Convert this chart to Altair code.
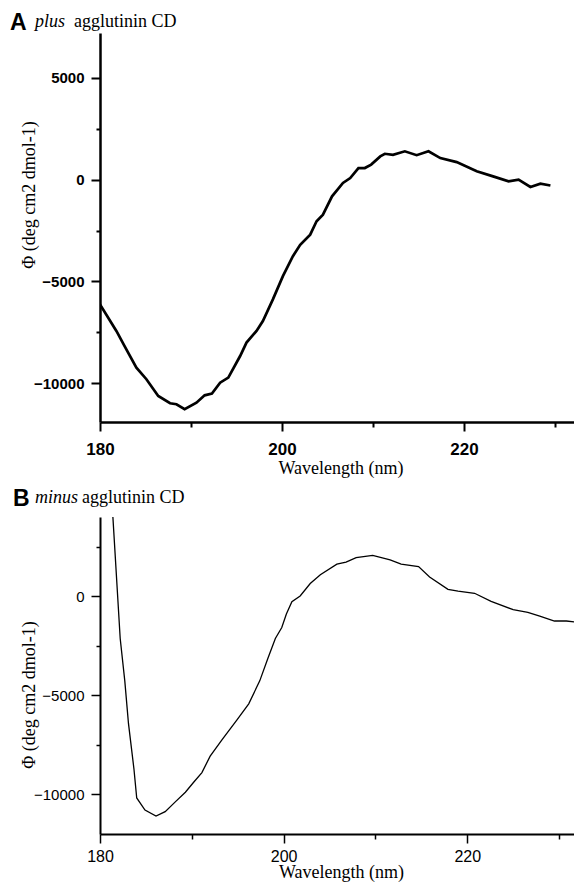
import altair as alt
import pandas as pd

# Panel A: plus agglutinin CD
wl_a = [180, 181.8, 182.7, 184.0, 185.1, 186.4, 187.7, 188.4, 189.3, 190.6, 191.5, 192.3,
        193.2, 194.1, 195.4, 196.1, 197.2, 197.9, 199.0, 200.1, 201.2, 202.0, 203.1, 203.8,
        204.5, 205.5, 206.7, 207.5, 208.4, 209.1, 209.8, 210.8, 211.3, 212.2, 213.5, 214.8,
        216.1, 217.4, 219.2, 221.4, 223.2, 224.9, 226.0, 227.3, 228.4, 229.5]
cd_a = [-6130, -7430, -8170, -9230, -9800, -10620, -10980, -11030, -11270, -10950, -10590, -10500,
        -9970, -9720, -8660, -8000, -7430, -6940, -5880, -4740, -3760, -3200, -2700, -2040,
        -1720, -820, -160, 80, 570, 570, 740, 1140, 1270, 1220, 1390, 1200,
        1390, 1060, 860, 410, 160, -80, 0, -360, -200, -290]

# Panel B: minus agglutinin CD
wl_b = [181.3, 182.2, 182.7, 183.1, 183.7, 184.0, 184.9, 186.1, 187.1, 188.2, 189.3, 190.2,
        191.1, 192.0, 193.3, 194.9, 196.2, 197.4, 198.3, 199.1, 199.8, 200.3, 200.9, 201.8,
        202.9, 204.0, 205.8, 206.8, 207.9, 209.7, 211.6, 212.8, 214.7, 215.9, 217.9, 219.0,
        220.8, 222.6, 225.0, 226.6, 227.9, 229.5, 230.8, 232.6]
cd_b = [4800, -2130, -4270, -6420, -8730, -10180, -10790, -11090, -10870, -10380, -9890, -9390,
        -8900, -8070, -7240, -6250, -5430, -4270, -3120, -2130, -1580, -900, -280, 15,
        640, 1090, 1620, 1720, 1950, 2060, 1830, 1620, 1500, 975, 350, 260,
        150, -260, -680, -810, -1000, -1250, -1250, -1340]

letters = ["A", "B"]
strains = ["plus", "minus"]
rest = ["agglutinin CD", "agglutinin CD"]
x_ticks = [180, 190, 200, 210, 220, 230]
y_ticks_a = [-10000, -7500, -5000, -2500, 0, 2500, 5000]
y_ticks_b = [-10000, -7500, -5000, -2500, 0, 2500]
x_title = "Wavelength (nm)"
y_title = "Φ (deg cm2 dmol-1)"

SANS = "Liberation Sans"
SERIF = "Liberation Serif"


def ticksize(major_test, minor_test, major, minor):
    return {"condition": [{"test": major_test, "value": major}, {"test": minor_test, "value": minor}],
            "value": major}


def panel(wl, cd, letter, strain, rst, xdom, ydom, yticks, width, height,
          bold, lw, dw, tw, title_y, head, xlpad, xtpad, xlsize):
    df = pd.DataFrame({"wl": wl, "cd": cd})
    weight = "bold" if bold else "normal"
    xaxis = alt.Axis(values=x_ticks, format="d",
                     labelExpr="datum.value % 20 === 0 ? datum.label : ''",
                     tickSize=ticksize("datum.value % 20 === 0", "datum.value % 20 !== 0", 9, 5),
                     labelFont=SANS, labelFontWeight=weight, labelFontSize=xlsize, labelColor="black",
                     labelPadding=xlpad, labelFlush=False, labelOverlap=False,
                     domainColor="black", domainWidth=dw, tickColor="black", tickWidth=tw,
                     grid=False, title=x_title, titleFont=SERIF, titleFontSize=18,
                     titleFontWeight="normal", titleColor="black", titlePadding=xtpad)
    yaxis = alt.Axis(values=yticks, format="d",
                     labelExpr="datum.value % 5000 === 0 ? datum.label : ''",
                     tickSize=ticksize("datum.value % 5000 === 0", "datum.value % 5000 !== 0", 9, 4),
                     labelFont=SANS, labelFontWeight=weight, labelFontSize=15, labelColor="black",
                     labelPadding=7, labelOverlap=False,
                     domainColor="black", domainWidth=dw, tickColor="black", tickWidth=tw,
                     grid=False, title=y_title, titleFont=SERIF, titleFontSize=18,
                     titleFontWeight="normal", titleColor="black", titleX=-62, titleY=title_y)
    line = alt.Chart(df).mark_line(color="black", strokeWidth=lw, clip=True).encode(
        x=alt.X("wl:Q", scale=alt.Scale(domain=xdom, nice=False, zero=False), axis=xaxis),
        y=alt.Y("cd:Q", scale=alt.Scale(domain=ydom, nice=False, zero=False), axis=yaxis),
    )
    t1 = alt.Chart(pd.DataFrame({"t": [letter]})).mark_text(
        align="left", baseline="alphabetic", font=SANS, fontWeight="bold", fontSize=23, color="black"
    ).encode(x=alt.value(head[0]), y=alt.value(head[1]), text="t:N")
    t2 = alt.Chart(pd.DataFrame({"t": [strain]})).mark_text(
        align="left", baseline="alphabetic", font=SERIF, fontStyle="italic", fontSize=18, color="black"
    ).encode(x=alt.value(head[2]), y=alt.value(head[3]), text="t:N")
    t3 = alt.Chart(pd.DataFrame({"t": [rst]})).mark_text(
        align="left", baseline="alphabetic", font=SERIF, fontSize=18, color="black"
    ).encode(x=alt.value(head[4]), y=alt.value(head[3]), text="t:N")
    return alt.layer(line, t1, t2, t3).properties(width=width, height=height)


pa = panel(wl_a, cd_a, letters[0], strains[0], rest[0], [180, 232.86], [-11900, 7200], y_ticks_a,
           481, 389, True, 2.7, 2.5, 2, 161.5, (-90, -3, -65, -6, -26), 10, 2, 17)
pb = panel(wl_b, cd_b, letters[1], strains[1], rest[1], [180, 232.5], [-12000, 4000], y_ticks_b,
           482, 317, False, 1.3, 2, 1.5, 177.5, (-87, -11, -65, -14, -18), 5, -1, 16)

chart = alt.vconcat(pa, pb, spacing=11).properties(
    padding={"left": 2, "top": 4, "right": -8, "bottom": 3}
).configure_view(stroke=None)

chart.save("out.html", embed_options={"renderer": "svg", "actions": False})
